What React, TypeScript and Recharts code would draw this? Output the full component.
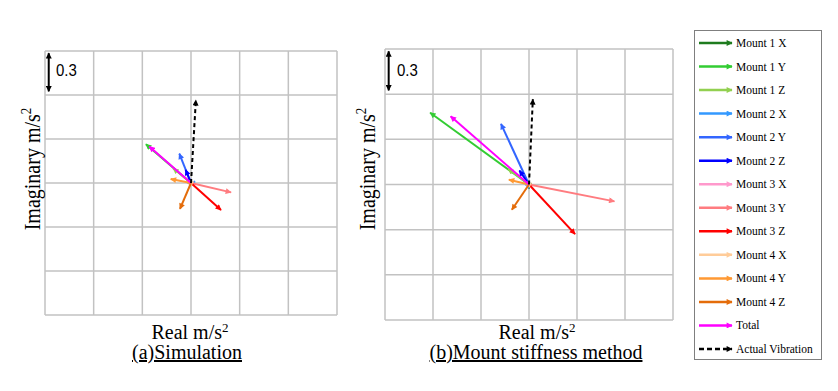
import { CartesianGrid, Line, LineChart, XAxis, YAxis } from 'recharts';

// vector names, in legend order
const SERIES = [
  'Mount 1 X', 'Mount 1 Y', 'Mount 1 Z',
  'Mount 2 X', 'Mount 2 Y', 'Mount 2 Z',
  'Mount 3 X', 'Mount 3 Y', 'Mount 3 Z',
  'Mount 4 X', 'Mount 4 Y', 'Mount 4 Z',
  'Total', 'Actual Vibration',
];
const COLORS = [
  '#1e7b1e', '#33cc33', '#92d050',
  '#3399ff', '#3366ff', '#0000ff',
  '#ff99cc', '#ff7c80', '#ff0000',
  '#ffcc99', '#ff9933', '#e46c0a',
  '#ff00ff', '#000000',
];

// (a) Simulation: real / imaginary parts, m/s2
const SIM_REAL = [0.01, -0.278, -0.11, 0.025, -0.072, -0.033, 0.02, 0.247, 0.185, -0.02, -0.125, -0.068, -0.257, 0.03];
const SIM_IMAG = [-0.01, 0.265, 0.1, 0.01, 0.2, 0.09, -0.005, -0.064, -0.184, 0.01, 0.027, -0.177, 0.249, 0.565];

// (b) Mount stiffness method
const MSM_REAL = [0.0, -0.618, -0.13, 0.01, -0.175, -0.06, 0.02, 0.534, 0.288, -0.02, -0.126, -0.107, -0.49, 0.024];
const MSM_IMAG = [-0.027, 0.477, 0.103, 0.01, 0.403, 0.093, -0.005, -0.112, -0.33, 0.01, 0.032, -0.168, 0.453, 0.566];

const GRID_TICKS = [-0.9, -0.6, -0.3, 0, 0.3, 0.6, 0.9];
// scale bar, one grid step (0.3)
const SCALE_BAR = [{ x: -0.877, y: 0.885 }, { x: -0.877, y: 0.625 }];

const SERIF = "'Liberation Serif', 'Times New Roman', serif";

const noTick = () => <g />;

function Markers({ id }: { id: string }) {
  return (
    <defs>
      {COLORS.map((c, i) => (
        <marker
          key={i}
          id={`${id}-m${i}`}
          viewBox="0 0 10 10"
          refX="9"
          refY="5"
          markerUnits="userSpaceOnUse"
          markerWidth="7"
          markerHeight="6"
          orient="auto-start-reverse"
        >
          <path d="M0,0 L10,5 L0,10 z" fill={c} />
        </marker>
      ))}
    </defs>
  );
}

interface ChartProps {
  id: string;
  left: number;
  top: number;
  width: number;
  height: number;
  real: number[];
  imag: number[];
}

function VectorChart({ id, left, top, width, height, real, imag }: ChartProps) {
  const black = `url(#${id}-m13)`;
  return (
    <div style={{ position: 'absolute', left, top }}>
      <LineChart width={width} height={height} margin={{ top: 2, right: 2, bottom: 2, left: 2 }}>
        <Markers id={id} />
        <CartesianGrid stroke="#c2c2c2" strokeWidth={1.5} />
        <XAxis
          type="number"
          dataKey="x"
          domain={[-0.9, 0.9]}
          ticks={GRID_TICKS}
          interval={0}
          allowDataOverflow
          axisLine={false}
          tickLine={false}
          tick={noTick}
          height={0}
        />
        <YAxis
          type="number"
          domain={[-0.9, 0.9]}
          ticks={GRID_TICKS}
          interval={0}
          allowDataOverflow
          axisLine={false}
          tickLine={false}
          tick={noTick}
          width={0}
        />
        <Line
          data={SCALE_BAR}
          dataKey="y"
          type="linear"
          stroke="#000"
          strokeWidth={2}
          dot={false}
          activeDot={false}
          markerStart={black}
          markerEnd={black}
          isAnimationActive={false}
        />
        {SERIES.map((name, i) => (
          <Line
            key={name}
            name={name}
            data={[{ x: 0, y: 0 }, { x: real[i], y: imag[i] }]}
            dataKey="y"
            type="linear"
            stroke={COLORS[i]}
            strokeWidth={2}
            strokeDasharray={i === 13 ? '4 3' : undefined}
            dot={false}
            activeDot={false}
            markerEnd={`url(#${id}-m${i})`}
            isAnimationActive={false}
          />
        ))}
      </LineChart>
    </div>
  );
}

const sup = <sup style={{ fontSize: 13, verticalAlign: 'top', lineHeight: '12px' }}>2</sup>;

function AxisTexts({ cx, yx, title, titleCx }: { cx: number; yx: number; title: string; titleCx: number }) {
  return (
    <>
      <div
        style={{
          position: 'absolute', left: cx - 100, top: 322, width: 200, textAlign: 'center',
          fontFamily: SERIF, fontSize: 20, lineHeight: '20px',
        }}
      >
        Real m/s{sup}
      </div>
      <div
        style={{
          position: 'absolute', left: titleCx - 150, top: 342, width: 300, textAlign: 'center',
          fontFamily: SERIF, fontSize: 20, lineHeight: '20px', textDecoration: 'underline',
        }}
      >
        {title}
      </div>
      <div
        style={{
          position: 'absolute', left: yx - 100, top: 158, width: 200, textAlign: 'center',
          fontFamily: SERIF, fontSize: 20, lineHeight: '22px', transform: 'rotate(-90deg) scaleY(1.12)',
          whiteSpace: 'nowrap',
        }}
      >
        Imaginary m/s{sup}
      </div>
    </>
  );
}

function ScaleLabel({ left, top }: { left: number; top: number }) {
  return (
    <div
      style={{
        position: 'absolute', left, top, fontFamily: "'Liberation Sans', Arial, sans-serif",
        fontSize: 15, lineHeight: '16px', transform: 'scaleY(1.1)',
      }}
    >
      0.3
    </div>
  );
}

function LegendBox() {
  const step = 23.54;
  return (
    <div
      style={{
        position: 'absolute', left: 694, top: 30, width: 126, height: 328,
        border: '1px solid #7f7f7f', background: '#fff',
      }}
    >
      <svg width={126} height={328} style={{ position: 'absolute', left: 0, top: 0 }}>
        <Markers id="lg" />
        {SERIES.map((name, i) => {
          const y = 12 + i * step;
          return (
            <g key={name}>
              <line
                x1={4}
                y1={y}
                x2={37}
                y2={y}
                stroke={COLORS[i]}
                strokeWidth={2.5}
                strokeDasharray={i === 13 ? '5 3' : undefined}
                markerEnd={`url(#lg-m${i})`}
              />
              <text x={41} y={y + 4} fontFamily={SERIF} fontSize={11.5} fill="#000">
                {name}
              </text>
            </g>
          );
        })}
      </svg>
    </div>
  );
}

export default function App() {
  return (
    <div style={{ position: 'absolute', left: 0, top: 0, width: 838, height: 391, background: '#fff', overflow: 'hidden' }}>
      <VectorChart id="sim" left={43} top={49} width={296} height={268} real={SIM_REAL} imag={SIM_IMAG} />
      <VectorChart id="msm" left={383} top={47} width={292} height={275} real={MSM_REAL} imag={MSM_IMAG} />
      <ScaleLabel left={56} top={62} />
      <ScaleLabel left={397} top={62} />
      <AxisTexts cx={190} yx={32} title="(a)Simulation" titleCx={187} />
      <AxisTexts cx={537} yx={367} title="(b)Mount stiffness method" titleCx={536} />
      <LegendBox />
    </div>
  );
}
